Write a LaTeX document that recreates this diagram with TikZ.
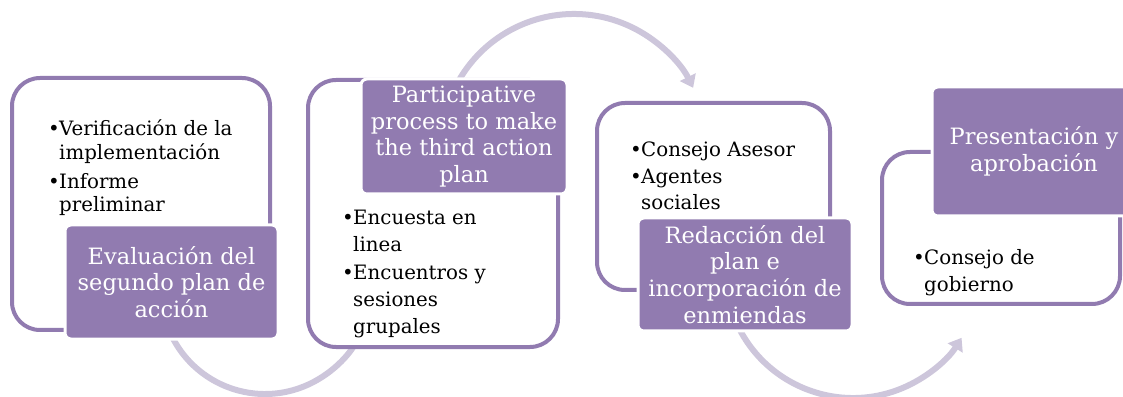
\documentclass[tikz,border=0pt]{standalone}
\usepackage{fontspec}
\setmainfont{DejaVu Serif}
\usepackage{xcolor}
\usepackage{tikz}
\usetikzlibrary{arrows.meta}
\usetikzlibrary{positioning,calc}
\definecolor{flowpurple}{RGB}{145,123,176}
\definecolor{flowlilac}{RGB}{205,198,219}
\tikzstyle{outerbox} = [rectangle, rounded corners=28pt, draw=flowpurple, line width=4pt, fill=white, inner sep=0pt]
\tikzstyle{titlebox} = [rectangle, rounded corners=6pt, fill=flowpurple, draw=white, line width=3pt, text=white, align=center, inner sep=0pt, font=\fontsize{22.5}{26.8}\selectfont]
\tikzstyle{itemtext} = [anchor=base west, inner sep=0pt]
\tikzstyle{flowarc} = [draw=flowlilac, line width=6pt, -{Triangle[length=12pt,width=17pt]}]
\newcommand{\bul}{\makebox[11pt][l]{\textbullet}}

\begin{document}
\begin{tikzpicture}[x=1pt,y=1pt]
				\useasboundingbox (0,0) rectangle (1123,396);
				% arcs behind the boxes
				\coordinate (c1) at (265,106);
				\coordinate (c2) at (574,249);
				\coordinate (c3) at (853,126);
				\coordinate (a1) at ($(c1)+(205:104)$);
				\coordinate (a2) at ($(c2)+(150:133)$);
				\coordinate (a3) at ($(c3)+(205:128)$);
				\draw[flowarc] (a1) arc[start angle=205, end angle=340, radius=104pt];
				\draw[flowarc] (a2) arc[start angle=150, end angle=26.4, radius=133pt];
				\draw[flowarc] (a3) arc[start angle=205, end angle=328, radius=128pt];
				
				% outer boxes
				\node[outerbox, minimum width=258, minimum height=252] (out1) at (141,192) {};
				\node[outerbox, minimum width=250, minimum height=267] (out2) at (433,182.5) {};
				\node[outerbox, minimum width=233, minimum height=187] (out3) at (713.5,199.5) {};
				\node[outerbox, minimum width=238, minimum height=152] (out4) at (1001,168) {};
				
				% titles
				\node[titlebox, minimum width=213, minimum height=114] (tit1) at (171.5,114) {Evaluación del\\segundo plan de\\acción};
				\node[titlebox, minimum width=206, minimum height=115] (tit2) at (464,259.5) {Participative\\process to make\\the third action\\plan};
				\node[titlebox, minimum width=214, minimum height=113] (tit3) at (745,121.5) {Redacción del\\plan e\\incorporación de\\enmiendas};
				\node[titlebox, minimum width=204, minimum height=129] (tit4) at (1034,244.5) {Presentación y\\aprobación};
				
				% bullet lists
				\node[itemtext, font=\fontsize{19.8}{23.5}\selectfont] (lst1) at (48,260) {\begin{tabular}[t]{@{}l@{}l@{}}
					\bul & Verificación de la\\ & implementación\\[5.5pt]
					\bul & Informe\\ & preliminar\end{tabular}};
				\node[itemtext, font=\fontsize{19.8}{27}\selectfont] (lst2) at (342,171) {\begin{tabular}[t]{@{}l@{}l@{}}
					\bul & Encuesta en\\ & linea\\[1pt]
					\bul & Encuentros y\\ & sesiones\\ & grupales\end{tabular}};
				\node[itemtext, font=\fontsize{19.8}{26.5}\selectfont] (lst3) at (630,239) {\begin{tabular}[t]{@{}l@{}l@{}}
					\bul & Consejo Asesor\\
					\bul & Agentes\\ & sociales\end{tabular}};
				\node[itemtext, font=\fontsize{19.8}{27}\selectfont] (lst4) at (913,131) {\begin{tabular}[t]{@{}l@{}l@{}}
					\bul & Consejo de\\ & gobierno\end{tabular}};
			\end{tikzpicture}
\end{document}
